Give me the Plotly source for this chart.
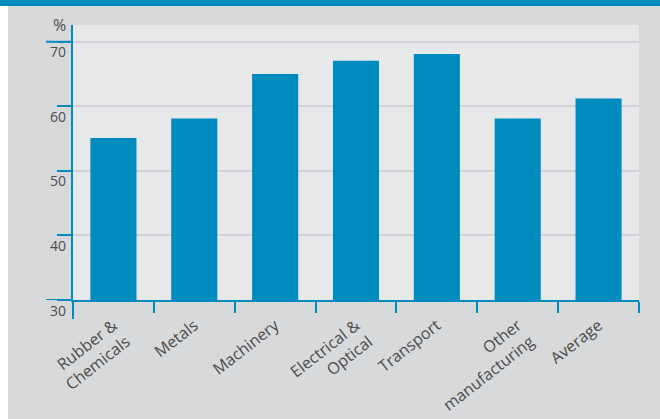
import plotly.graph_objects as go

categories = ["Rubber &<br>Chemicals", "Metals", "Machinery", "Electrical &<br>Optical",
              "Transport", "Other<br>manufacturing", "Average"]
values = [55.1, 58.1, 65.0, 67.05, 68.1, 58.1, 61.2]
ytick_vals = [30, 40, 50, 60, 70]
ytick_text = ["30", "40", "50", "60", "70"]

BLUE = "#008bbf"
PAPER = "#d8d9db"
PLOT = "#e7e8ea"
GRID = "#d1d2d5"
TXT = "#4d4d4d"
FONT = "Open Sans"

W, H = 660, 419
L, R, T, B = 73, 21, 25, 119
pw, ph = W - L - R, H - T - B

def px(x):
    return (x - L) / pw

def py(y):
    return (H - B - y) / ph

fig = go.Figure(go.Bar(x=categories, y=values, marker=dict(color=BLUE, line=dict(width=0)),
                       width=0.57))

shapes = [
    dict(type="rect", xref="paper", yref="paper", x0=px(0), x1=px(8), y0=py(H), y1=py(0),
         fillcolor="white", line=dict(width=0), layer="below"),
    dict(type="rect", xref="paper", yref="paper", x0=px(0), x1=px(W), y0=py(6), y1=py(0),
         fillcolor=BLUE, line=dict(width=0)),
    dict(type="line", xref="paper", yref="paper", x0=0, x1=0, y0=py(319), y1=0,
         line=dict(color=BLUE, width=2)),
]
for v in [30, 70]:
    shapes.append(dict(type="line", xref="paper", yref="y", x0=px(46), x1=0, y0=v, y1=v,
                       line=dict(color=BLUE, width=2)))

annotations = [dict(text="%", xref="paper", yref="paper", x=px(68), y=py(25), xanchor="right",
                    yanchor="middle", showarrow=False, font=dict(size=16, color=TXT, family=FONT))]
for v, t in zip(ytick_vals, ytick_text):
    annotations.append(dict(text=t, xref="paper", yref="y", x=px(68), y=v, xanchor="right",
                            yanchor="middle", yshift=-10, showarrow=False,
                            font=dict(size=14, color=TXT, family=FONT)))

fig.update_layout(
    width=W, height=H,
    margin=dict(l=L, r=R, t=T, b=B, pad=0, autoexpand=False),
    paper_bgcolor=PAPER, plot_bgcolor=PLOT,
    showlegend=False, bargap=0.43,
    font=dict(family=FONT, color=TXT, size=14),
    shapes=shapes, annotations=annotations,
    xaxis=dict(tickson="boundaries", ticks="outside", ticklen=11, tickwidth=2, tickcolor=BLUE,
               showline=True, linecolor=BLUE, linewidth=2, showgrid=False, automargin=False,
               tickangle=-38, ticklabelstandoff=8,
               tickfont=dict(size=16, color=TXT, family=FONT)),
    yaxis=dict(range=[30, 72.6], tickvals=ytick_vals, showticklabels=False, ticks="outside",
               ticklen=14, tickwidth=2, tickcolor=BLUE, showline=True, linecolor=BLUE, linewidth=2,
               showgrid=True, gridcolor=GRID, gridwidth=2, zeroline=False, automargin=False),
)

fig.write_html("out.html", config={"displayModeBar": False},
               post_script="document.body.style.margin='0';")
